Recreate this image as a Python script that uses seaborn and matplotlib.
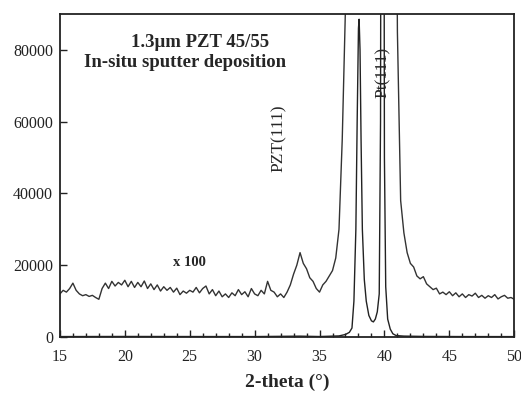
import numpy as np
import pandas as pd
import seaborn as sns
import matplotlib.pyplot as plt
from matplotlib.ticker import MultipleLocator

# x100 scaled scan, 15..50 deg in 0.25 deg steps
scaled_angle = np.linspace(15, 50, 141)
scaled_counts = [
    12000, 13000, 12500, 13500, 15000, 13000, 12000, 11500,   # 15.0
    11800, 11300, 11600, 11000, 10500, 13500, 15000, 13500,   # 17.0
    15500, 14200, 15200, 14500, 15800, 14000, 15500, 13800,   # 19.0
    15200, 14000, 15600, 13500, 14800, 13200, 14500, 12800,   # 21.0
    14000, 13000, 13800, 12500, 13600, 11800, 12800, 12200,   # 23.0
    13000, 12500, 13800, 12300, 13500, 14200, 12000, 13200,   # 25.0
    11500, 12800, 11200, 12000, 11000, 12300, 11500, 13200,   # 27.0
    11800, 12600, 11200, 13500, 12000, 11500, 13000, 12000,   # 29.0
    15500, 13000, 12500, 11200, 12000, 11000, 12500, 14500,   # 31.0
    17500, 20000, 23500, 20500, 19000, 16500, 15500, 13500,   # 33.0
    12500, 14500, 15500, 17000, 18500, 22000, 30000, 55000,   # 35.0
    92000, 200000, 450000, 700000, 900000, 800000, 650000, 600000,   # 37.0
    600000, 700000, 900000, 1000000, 1000000, 800000, 500000, 250000,  # 39.0
    85000, 38000, 29000, 23500, 20500, 19500, 17000, 16200,   # 41.0
    16800, 14800, 14000, 13200, 13600, 12000, 12500, 11800,   # 43.0
    12600, 11500, 12300, 11200, 12000, 11000, 11800, 11400,   # 45.0
    12200, 11000, 11600, 10800, 11500, 11000, 11800, 10600,   # 47.0
    11200, 11600, 10800, 11000, 10500,                        # 49.0
]

# raw scan
raw_angle = [15, 20, 25, 30, 33.5, 35, 36.5, 37.0, 37.3, 37.5, 37.65, 37.8,
             37.9, 38.0, 38.05, 38.12, 38.2, 38.3, 38.45, 38.6, 38.8, 39.0,
             39.15, 39.3, 39.45, 39.6, 39.7, 39.8, 39.9, 40.0, 40.1, 40.25,
             40.45, 40.65, 40.9, 41.5, 43, 46, 50]
raw_counts = [120, 150, 130, 120, 235, 130, 300, 700, 1300, 2500, 10000, 30000,
              60000, 86000, 88500, 80000, 55000, 30000, 16000, 10000, 6000, 4500,
              4200, 5000, 7000, 12000, 60000, 300000, 300000, 50000, 14000, 5000,
              2200, 900, 400, 250, 160, 120, 110]

scaled_df = pd.DataFrame({'angle': scaled_angle, 'counts': scaled_counts})
raw_df = pd.DataFrame({'angle': raw_angle, 'counts': raw_counts})

sns.set_style('ticks')
plt.rcParams['font.family'] = ['Liberation Serif', 'DejaVu Serif']

fig = plt.figure(figsize=(5.21, 3.96), dpi=100)
ax = fig.add_axes([0.115, 0.149, 0.872, 0.816])

sns.lineplot(data=scaled_df, x='angle', y='counts', ax=ax, color='#333333', lw=1.0)
sns.lineplot(data=raw_df, x='angle', y='counts', ax=ax, color='#222222', lw=1.0)

ax.set_xlim(15, 50)
ax.set_ylim(0, 90000)
ax.xaxis.set_major_locator(MultipleLocator(5))
ax.xaxis.set_minor_locator(MultipleLocator(1))
ax.yaxis.set_major_locator(MultipleLocator(20000))
ax.tick_params(which='both', direction='in', labelsize=11.5, colors='#222222')
ax.tick_params(which='major', length=5, width=1)
ax.tick_params(which='minor', length=3, width=1)
ax.tick_params(axis='x', pad=9)
ax.tick_params(axis='y', pad=5)
for s in ax.spines.values():
    s.set_linewidth(1.3)
    s.set_color('#222222')

ax.set_xlabel('2-theta (°)', fontsize=14, fontweight='bold', labelpad=6)
ax.set_ylabel('')

ax.text(0.308, 0.91, '1.3μm PZT 45/55', transform=ax.transAxes, ha='center',
        va='center', fontsize=13.5, fontweight='bold')
ax.text(0.275, 0.848, 'In-situ sputter deposition', transform=ax.transAxes,
        ha='center', va='center', fontsize=13.5, fontweight='bold')
ax.text(31.9, 55300, 'PZT(111)', rotation=90, ha='center', va='center', fontsize=12.5)
ax.text(39.9, 73600, 'Pt(111)', rotation=90, ha='center', va='center', fontsize=12.5)
ax.text(25.0, 20800, 'x 100', ha='center', va='center', fontsize=10.5, fontweight='bold')

plt.savefig('out.png', dpi=100)
